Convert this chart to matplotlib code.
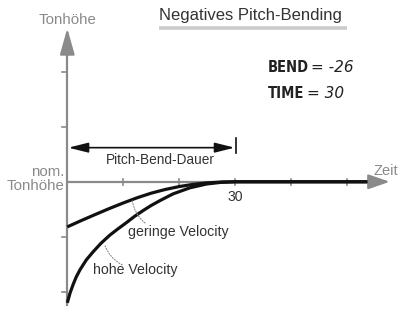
import matplotlib
matplotlib.use("Agg")
import matplotlib.pyplot as plt
import logging
logging.getLogger('matplotlib.font_manager').setLevel(logging.ERROR)

# ---- data ----
x_low = [0, 2.5, 5, 7.5, 10, 12.5, 15, 17.5, 20, 22.5, 25, 27.5, 30, 53.6]
y_low = [-0.82, -0.705, -0.595, -0.487, -0.385, -0.29, -0.207, -0.14, -0.087, -0.047, -0.02, -0.005, 0, 0]
x_high = [0, 0.5, 1.07, 1.6, 2.27, 3.4, 4.64, 6.0, 7.6, 9.0, 10.6, 12.0, 13.6, 15.0, 16.6,
          18.9, 21.9, 24.9, 27.5, 30, 53.6]
y_high = [-2.2, -2.02, -1.86, -1.73, -1.60, -1.42, -1.27, -1.12, -0.97, -0.86, -0.74, -0.63, -0.52,
          -0.43, -0.34, -0.22, -0.11, -0.04, -0.01, 0, 0]
x_ticks = [10, 20, 30, 40, 50]
y_ticks = [-2, -1, 1, 2]
bend_value = "-26"
time_value = "30"

GREY = "#8a8a8a"
DARK = "#333333"
FONT = ["Liberation Sans", "DejaVu Sans"]

fig = plt.figure(figsize=(3.99, 3.11), dpi=100)
ax = fig.add_axes([0, 0, 1, 1])
ax.set_xlim(-12.02, 59.26)
ax.set_ylim(-2.349, 3.304)
ax.axis("off")

# axes with arrowheads
ax.plot([0, 0], [-2.25, 2.4], color=GREY, lw=1.6, solid_capstyle="butt", zorder=1)
ax.annotate("", xy=(0, 2.79), xytext=(0, 2.3),
            arrowprops=dict(arrowstyle="-|>,head_length=1.6,head_width=0.45",
                            color=GREY, lw=1.6, shrinkA=0, shrinkB=0))
ax.plot([0, 55], [0, 0], color=GREY, lw=1.6, solid_capstyle="butt", zorder=1)
ax.annotate("", xy=(57.6, 0), xytext=(54.5, 0),
            arrowprops=dict(arrowstyle="-|>,head_length=1.3,head_width=0.45",
                            color=GREY, lw=1.6, shrinkA=0, shrinkB=0))
for t in x_ticks:
    ax.plot([t, t], [-0.05, 0.05], color=GREY, lw=1.2, zorder=1)
for t in y_ticks:
    ax.plot([-0.9, 0], [t, t], color=GREY, lw=1.2, zorder=1)

# curves
ax.plot(x_low, y_low, color="#111111", lw=2.3, solid_capstyle="butt", zorder=3)
ax.plot(x_high, y_high, color="#111111", lw=2.3, solid_capstyle="butt", zorder=3)

# pitch-bend duration arrow
ax.annotate("", xy=(0.2, 0.62), xytext=(29.9, 0.62),
            arrowprops=dict(arrowstyle="<|-|>,head_length=1.2,head_width=0.3",
                            color="#111111", lw=1.2, shrinkA=0, shrinkB=0))
ax.plot([30.2, 30.2], [0.52, 0.79], color="#111111", lw=1.2)
ax.text(16.6, 0.39, "Pitch-Bend-Dauer", ha="center", va="center", fontsize=9.8,
        color=DARK, family=FONT)

# labels
ax.text(0, 2.94, "Tonhöhe", ha="center", va="center", fontsize=10.8, color=GREY, family=FONT)
ax.text(56.9, 0.19, "Zeit", ha="center", va="center", fontsize=10.5, color=GREY, family=FONT)
ax.text(-0.5, 0.17, "nom.", ha="right", va="center", fontsize=10.8, color=GREY, family=FONT)
ax.text(-0.5, -0.08, "Tonhöhe", ha="right", va="center", fontsize=10.8, color=GREY, family=FONT)
ax.text(29.95, -0.28, time_value, ha="center", va="center", fontsize=10.2, color=DARK, family=FONT)
ax.text(10.9, -0.91, "geringe Velocity", ha="left", va="center", fontsize=10.2, color=DARK, family=FONT)
ax.text(4.6, -1.6, "hohe Velocity", ha="left", va="center", fontsize=10.2, color=DARK, family=FONT)

# dotted leaders
ax.annotate("", xy=(11.6, -0.33), xytext=(13.9, -0.75),
            arrowprops=dict(arrowstyle="-", linestyle=(0, (1, 1.5)), color=GREY, lw=0.8,
                            connectionstyle="arc3,rad=-0.2", shrinkA=0, shrinkB=0))
ax.annotate("", xy=(6.7, -1.15), xytext=(9.8, -1.51),
            arrowprops=dict(arrowstyle="-", linestyle=(0, (1, 1.5)), color=GREY, lw=0.8,
                            connectionstyle="arc3,rad=-0.2", shrinkA=0, shrinkB=0))

# title with grey underline bar
ax.text(16.4, 3.02, "Negatives Pitch-Bending", ha="left", va="center", fontsize=12,
        color=DARK, family=FONT)
ax.plot([16.4, 50.0], [2.80, 2.80], color="#cccccc", lw=2.6, solid_capstyle="butt")

# BEND / TIME
CFONT = ["DejaVu Sans"]
ax.text(35.9, 2.07, "BEND", ha="left", va="center", fontsize=10.5, weight="bold",
        stretch="condensed", color="#222222", family=CFONT)
ax.text(43.6, 2.07, "= " + bend_value, ha="left", va="center", fontsize=11,
        style="italic", color="#222222", family=CFONT)
ax.text(35.9, 1.61, "TIME", ha="left", va="center", fontsize=10.5, weight="bold",
        stretch="condensed", color="#222222", family=CFONT)
ax.text(42.8, 1.61, "= " + time_value, ha="left", va="center", fontsize=11,
        style="italic", color="#222222", family=CFONT)

fig.savefig("out.png", dpi=100)
